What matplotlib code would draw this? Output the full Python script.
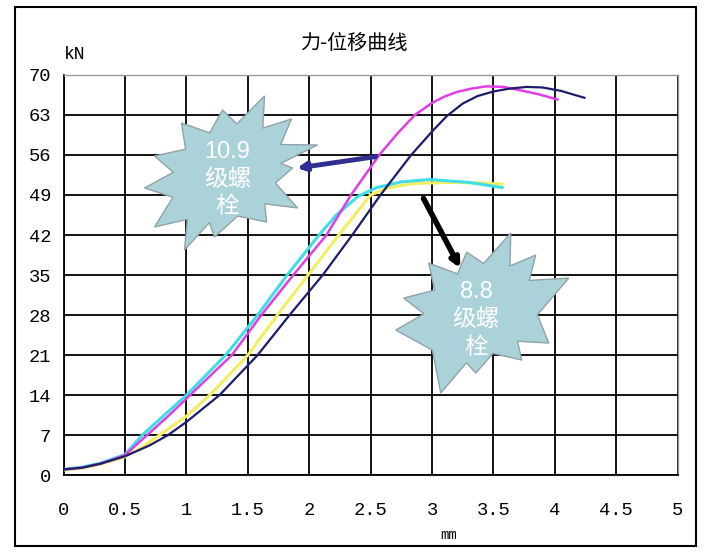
import numpy as np
import matplotlib
matplotlib.use("Agg")
from matplotlib import pyplot as plt
from matplotlib.patches import Polygon, Rectangle
import matplotlib.transforms as mtransforms

plt.rcParams['font.family'] = ['Liberation Mono', 'Noto Sans CJK SC', 'DejaVu Sans']

#############################################################
# Data
#############################################################
navyX = [0, 0.15, 0.3, 0.5, 0.7, 0.85, 1.0, 1.27, 1.58, 1.84, 2.11, 2.35, 2.58, 2.83, 3.0, 3.12,
         3.25, 3.37, 3.5, 3.63, 3.77, 3.9, 4.05, 4.24]
navyY = [1.0, 1.3, 2.0, 3.3, 5.2, 7.0, 9.3, 14, 21, 28, 35, 42, 49, 56, 60.1, 62.8,
         65.0, 66.3, 67.1, 67.6, 67.9, 67.8, 67.2, 66.0]

magX = [0, 0.15, 0.3, 0.5, 0.68, 0.85, 1.03, 1.37, 1.61, 1.87, 2.14, 2.34, 2.57, 2.72, 2.86, 3.0,
        3.1, 3.2, 3.32, 3.44, 3.58, 3.72, 3.87, 4.02]
magY = [1.0, 1.3, 2.0, 3.5, 7.0, 10.3, 14, 21, 28, 35, 42, 49, 56, 59.8, 63, 65.1,
        66.2, 67.0, 67.6, 68.0, 67.9, 67.3, 66.6, 65.7]

cyanX = [0, 0.15, 0.3, 0.5, 0.64, 0.82, 1.0, 1.32, 1.58, 1.82, 2.08, 2.22, 2.4, 2.55, 2.75, 2.98, 3.3, 3.57]
cyanY = [1.0, 1.4, 2.1, 3.6, 7.0, 10.5, 14, 21, 28, 35, 42, 45.5, 48.8, 50.3, 51.3, 51.7, 51.2, 50.3]

yelX = [0, 0.15, 0.3, 0.5, 0.65, 0.78, 1.0, 1.19, 1.5, 1.74, 1.99, 2.24, 2.5, 2.65, 2.85, 3.12, 3.4, 3.57]
yelY = [0.9, 1.2, 1.9, 3.2, 5.0, 7.0, 10.3, 14, 21, 28, 35, 42, 49, 50.3, 51.0, 51.2, 51.1, 50.9]

xTicks = [0, 0.5, 1, 1.5, 2, 2.5, 3, 3.5, 4, 4.5, 5]
xTickLabels = ["0", "0.5", "1", "1.5", "2", "2.5", "3", "3.5", "4", "4.5", "5"]
yTicks = [0, 7, 14, 21, 28, 35, 42, 49, 56, 63, 70]

# starburst tips, pixel offsets from the centre (x right, y down)
burst1Center = (1.335, 52.5)
burst1Tips = [(-46, -52), (-5, -65), (37, -79), (64, -56), (90, -30), (65, -7), (70, 33),
              (39, 47), (-13, 62), (-43, 75), (-73, 52), (-83, 13), (-73, -19)]
burst2Center = (3.38, 28.0)
burst2Tips = [(-50, -52), (-12, -63), (32, -82), (57, -60), (90, -37), (70, 28), (43, 45),
              (-3, 58), (-38, 78), (-83, 15), (-75, -17)]

#############################################################
# Plot
#############################################################
fig = plt.figure(figsize=(7.06, 5.59), dpi=100)
ax = fig.add_axes([0.09, 0.150, 0.870, 0.716])

fig.patches.append(Rectangle((0.021, 0.023), 0.965, 0.964, transform=fig.transFigure,
                             fill=False, edgecolor="black", linewidth=1.5))

ax.plot(yelX, yelY, color="#f2ee60", lw=2.2, zorder=3)
ax.plot(cyanX, cyanY, color="#3fdde6", lw=2.2, zorder=3)
ax.plot(magX, magY, color="#e03ee4", lw=1.8, zorder=4)
ax.plot(navyX, navyY, color="#1d1d6c", lw=1.6, zorder=4)

ax.set_xlim(0, 5)
ax.set_ylim(0, 70)
ax.set_xticks(xTicks)
ax.set_xticklabels(xTickLabels)
ax.set_yticks(yTicks)
ax.grid(True, color="black", lw=1.3, zorder=1)
ax.set_axisbelow(True)
ax.tick_params(length=0, labelsize=13.5)
ax.tick_params(axis="x", pad=19)
ax.tick_params(axis="y", pad=9)
for s in ["left", "bottom"]:
    ax.spines[s].set_color("black")
    ax.spines[s].set_linewidth(1.3)
for s in ["top", "right"]:
    ax.spines[s].set_color("#999999")
    ax.spines[s].set_linewidth(1.0)


def starburst(center, tips, inner=0.68):
    pts = []
    ang = [np.arctan2(t[1], t[0]) for t in tips]
    rad = [np.hypot(t[0], t[1]) for t in tips]
    n = len(tips)
    for i in range(n):
        pts.append((tips[i][0], tips[i][1]))
        a0, a1 = ang[i], ang[(i + 1) % n]
        if a1 < a0:
            a1 += 2 * np.pi
        am = (a0 + a1) / 2
        rm = inner * (rad[i] + rad[(i + 1) % n]) / 2
        pts.append((rm * np.cos(am), rm * np.sin(am)))
    pts = [(p[0] / 100.0, -p[1] / 100.0) for p in pts]
    tr = fig.dpi_scale_trans + mtransforms.ScaledTranslation(center[0], center[1], ax.transData)
    ax.add_patch(Polygon(pts, closed=True, transform=tr, facecolor="#abd2d8",
                         edgecolor="#8fa3a6", lw=1.0, zorder=6, clip_on=False))


starburst(burst1Center, burst1Tips)
starburst(burst2Center, burst2Tips)

lblFont = ['Liberation Sans', 'Noto Sans CJK SC']
ax.text(burst1Center[0], burst1Center[1] - 0.8, "10.9\n级螺\n栓", color="white", fontsize=17,
        family=lblFont, ha="center", va="center", linespacing=1.35, zorder=7)
ax.text(burst2Center[0] - 0.02, burst2Center[1] - 0.8, "8.8\n级螺\n栓", color="white", fontsize=17,
        family=lblFont, ha="center", va="center", linespacing=1.35, zorder=7)

ax.annotate("", xy=(1.90, 53.7), xytext=(2.54, 55.7),
            arrowprops=dict(arrowstyle="-|>,head_length=0.5,head_width=0.25", color="#2e2f8e",
                            lw=3.5, shrinkA=0, shrinkB=0), zorder=8)
ax.annotate("", xy=(3.23, 36.2), xytext=(2.93, 48.4),
            arrowprops=dict(arrowstyle="-|>,head_length=0.5,head_width=0.25", color="black",
                            lw=4, shrinkA=0, shrinkB=0), zorder=8)

fig.text(0.502, 0.923, "力-位移曲线", fontsize=14.5, family=['Noto Sans CJK SC'],
         ha="center", va="center")
fig.text(0.106, 0.902, "kN", fontsize=13, ha="center", va="center")
fig.text(0.635, 0.043, "mm", fontsize=10, ha="center", va="center")

fig.savefig("out.png", dpi=100)
